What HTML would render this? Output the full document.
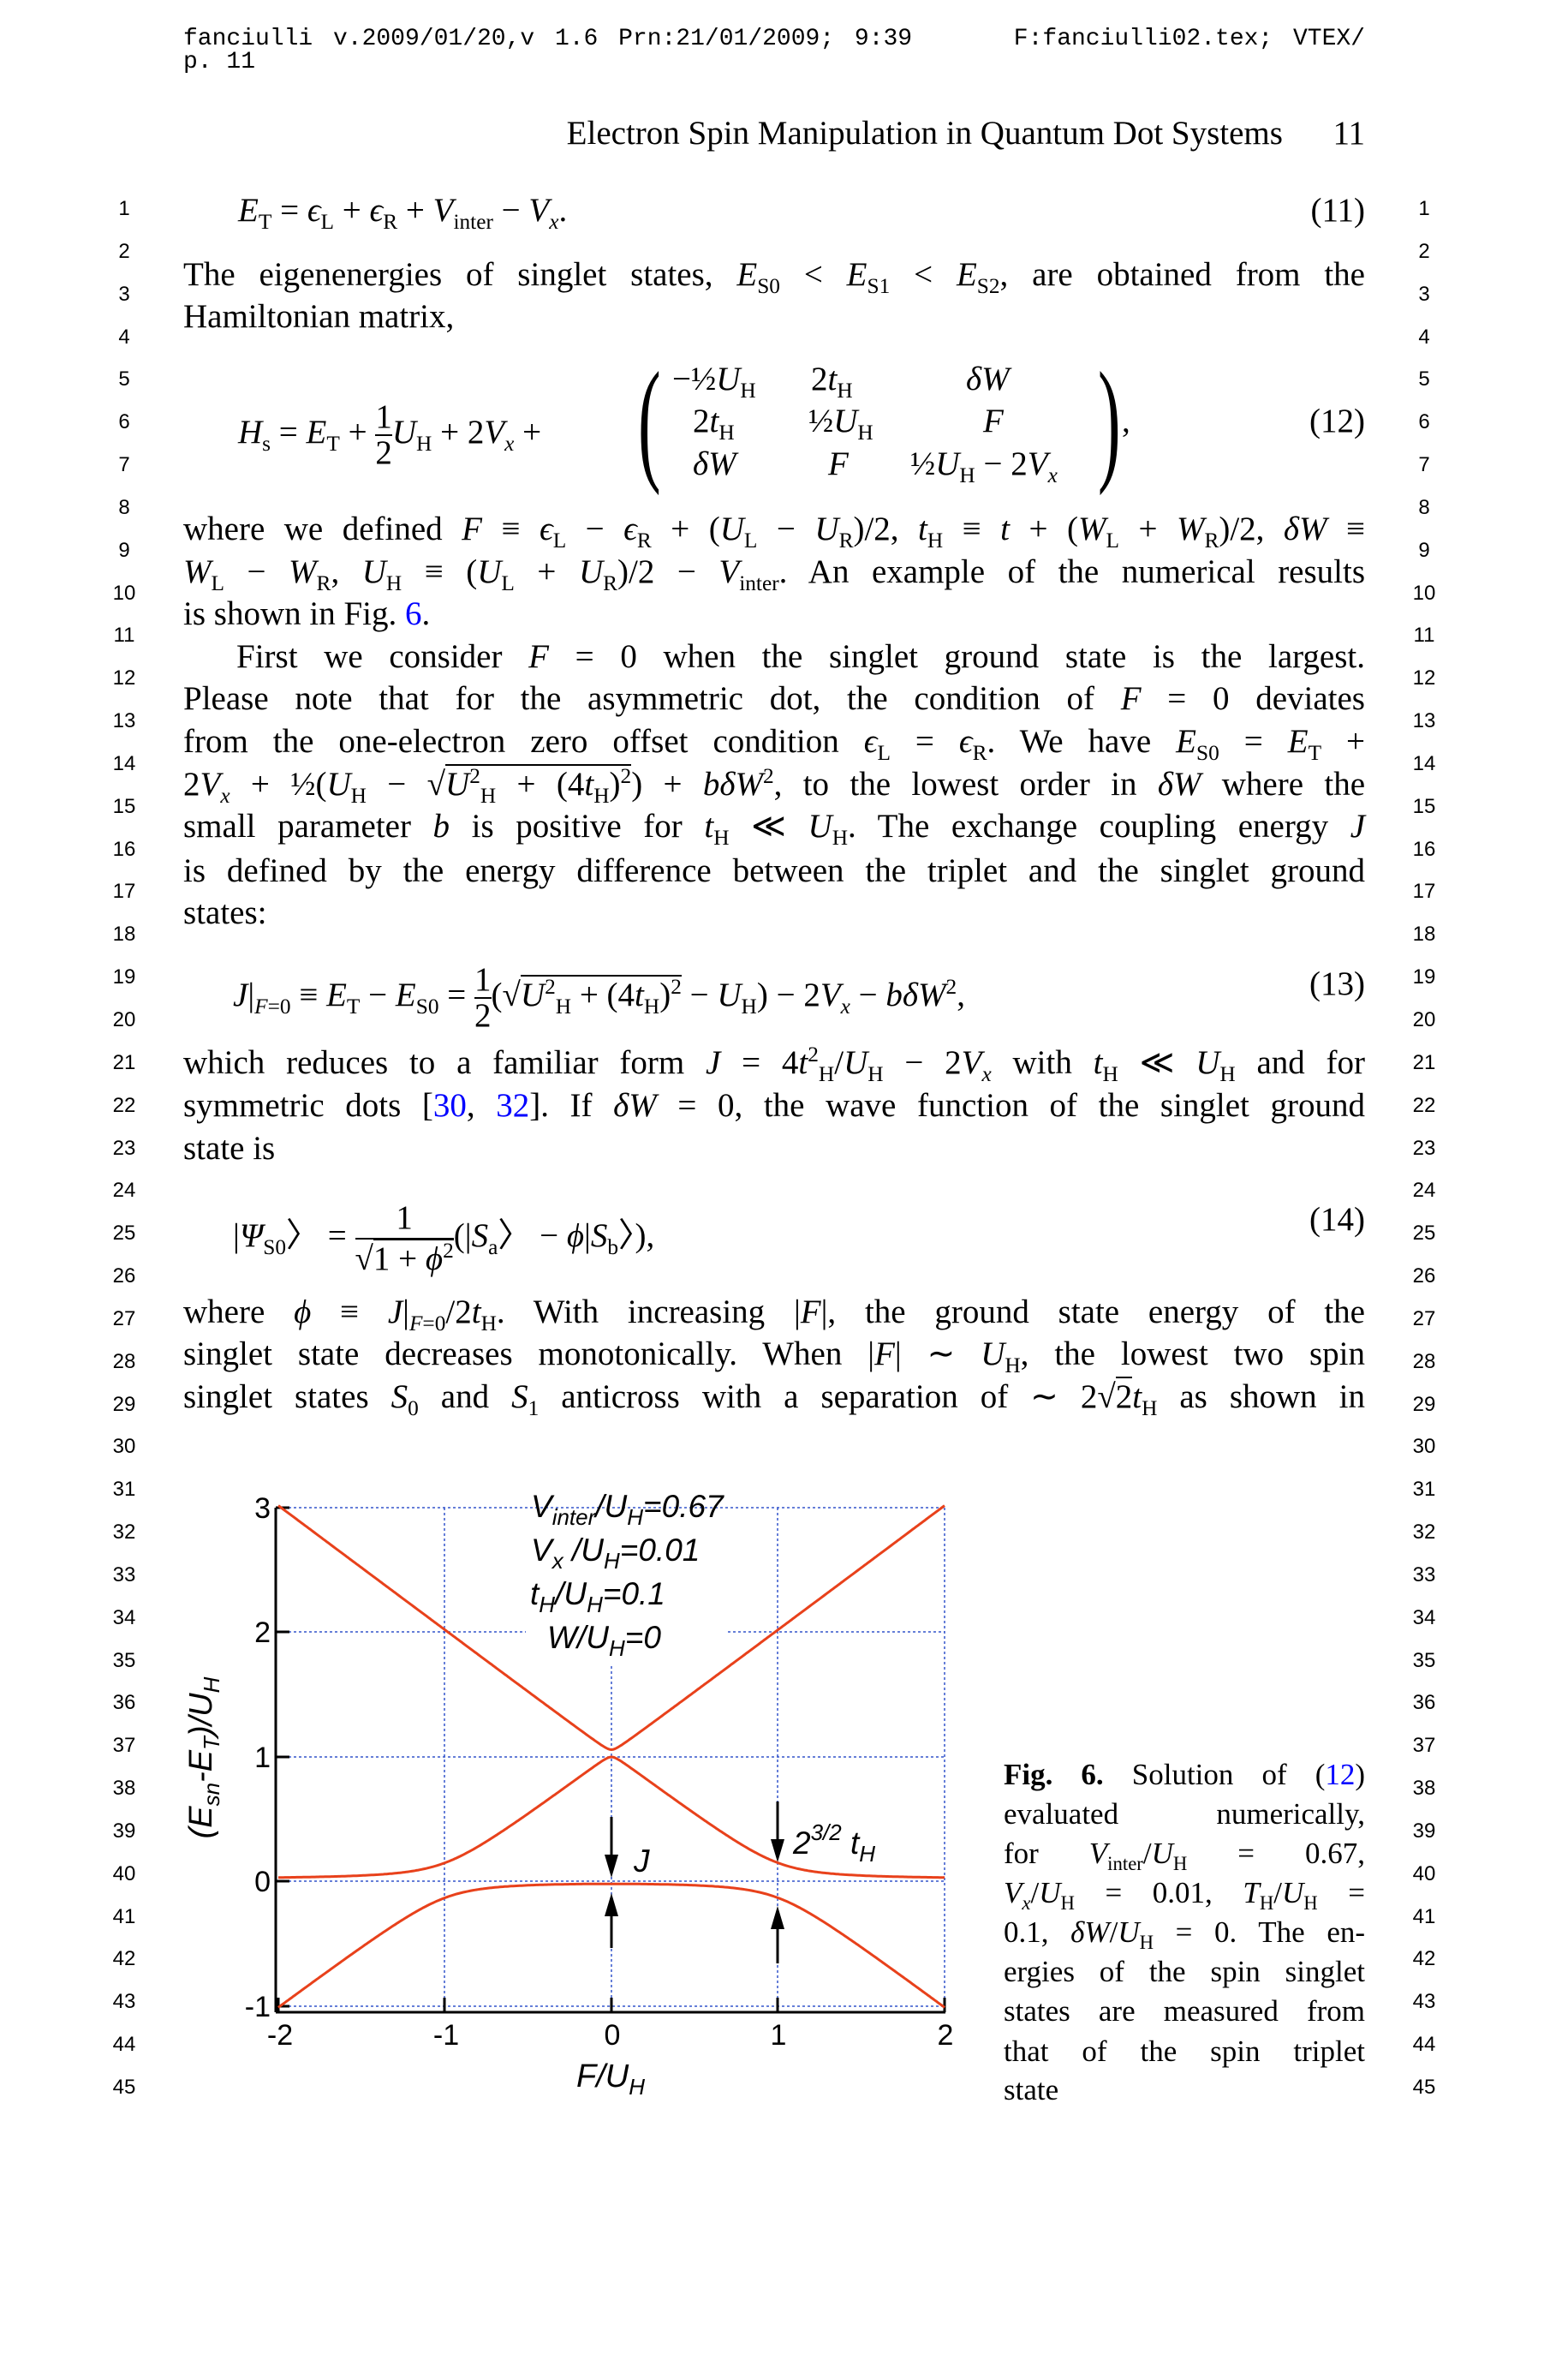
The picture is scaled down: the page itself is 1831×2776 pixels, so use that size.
<!DOCTYPE html>
<html><head><meta charset="utf-8">
<style>
html,body{margin:0;padding:0;background:#fff;}
body{width:1831px;height:2776px;position:relative;overflow:hidden;font-family:"Liberation Serif",serif;color:#000;}
.l{position:absolute;left:214px;width:1380px;height:50px;line-height:50px;font-size:39px;white-space:nowrap;text-align:justify;text-align-last:justify;}
.n{position:absolute;width:40px;height:50px;line-height:50px;font-family:"Liberation Sans",sans-serif;font-size:24px;text-align:center;}
.m{position:absolute;font-size:39px;white-space:nowrap;line-height:50px;height:50px;}
i{font-style:italic;}
sub,sup{font-size:65%;line-height:0;}
.c{position:absolute;left:1172px;width:422px;height:46px;line-height:46px;font-size:35px;white-space:nowrap;text-align:justify;text-align-last:justify;}
a{color:#00f;text-decoration:none;}
.mono{position:absolute;font-family:"Liberation Mono",monospace;font-size:28px;white-space:nowrap;line-height:30px;}
</style></head><body>
<div class="mono" style="left:214px;top:31px;width:1380px;text-align:justify;text-align-last:justify;">fanciulli v.2009/01/20,v 1.6 Prn:21/01/2009; 9:39 &nbsp; &nbsp; F:fanciulli02.tex; VTEX/</div>
<div class="mono" style="left:214px;top:58px;">p. 11</div>
<div class="m" style="right:237px;top:131px;">Electron Spin Manipulation in Quantum Dot Systems &nbsp; &nbsp; &nbsp;11</div>

<div id="nums"></div>

<div class="m" style="left:278px;top:221px;"><i>E</i><sub>T</sub> = <i>ϵ</i><sub>L</sub> + <i>ϵ</i><sub>R</sub> + <i>V</i><sub>inter</sub> − <i>V<sub>x</sub></i>.</div>
<div class="m" style="right:237px;top:221px;">(11)</div>
<div class="l" style="top:296px;">The eigenenergies of singlet states, <i>E</i><sub>S0</sub> &lt; <i>E</i><sub>S1</sub> &lt; <i>E</i><sub>S2</sub>, are obtained from the</div>
<div class="m" style="left:214px;top:345px;">Hamiltonian matrix,</div>

<div class="m" style="left:278px;top:467px;"><i>H</i><sub>s</sub> = <i>E</i><sub>T</sub> + <span style="display:inline-block;vertical-align:middle;text-align:center;line-height:40px;"><span style="display:block;border-bottom:2px solid #000;">1</span><span style="display:block;">2</span></span><i>U</i><sub>H</sub> + 2<i>V<sub>x</sub></i> +</div>
<div style="position:absolute;left:745px;top:410px;font-size:160px;line-height:160px;transform:scaleX(0.5);transform-origin:left;">(</div>
<div style="position:absolute;left:1282px;top:410px;font-size:160px;line-height:160px;transform:scaleX(0.5);transform-origin:left;">)</div>
<div class="m" style="left:785px;top:418px;">−½<i>U</i><sub>H</sub></div>
<div class="m" style="left:947px;top:418px;">2<i>t</i><sub>H</sub></div>
<div class="m" style="left:1128px;top:418px;"><i>δW</i></div>
<div class="m" style="left:809px;top:467px;">2<i>t</i><sub>H</sub></div>
<div class="m" style="left:944px;top:467px;">½<i>U</i><sub>H</sub></div>
<div class="m" style="left:1148px;top:467px;"><i>F</i></div>
<div class="m" style="left:809px;top:517px;"><i>δW</i></div>
<div class="m" style="left:967px;top:517px;"><i>F</i></div>
<div class="m" style="left:1063px;top:517px;">½<i>U</i><sub>H</sub> − 2<i>V<sub>x</sub></i></div>
<div class="m" style="left:1310px;top:467px;">,</div>
<div class="m" style="right:237px;top:467px;">(12)</div>

<div class="l" style="top:593px;">where we defined <i>F</i> ≡ <i>ϵ</i><sub>L</sub> − <i>ϵ</i><sub>R</sub> + (<i>U</i><sub>L</sub> − <i>U</i><sub>R</sub>)/2, <i>t</i><sub>H</sub> ≡ <i>t</i> + (<i>W</i><sub>L</sub> + <i>W</i><sub>R</sub>)/2, <i>δW</i> ≡</div>
<div class="l" style="top:643px;"><i>W</i><sub>L</sub> − <i>W</i><sub>R</sub>, <i>U</i><sub>H</sub> ≡ (<i>U</i><sub>L</sub> + <i>U</i><sub>R</sub>)/2 − <i>V</i><sub>inter</sub>. An example of the numerical results</div>
<div class="m" style="left:214px;top:692px;">is shown in Fig. <a>6</a>.</div>
<div class="l" style="top:742px;left:276px;width:1318px;">First we consider <i>F</i> = 0 when the singlet ground state is the largest.</div>
<div class="l" style="top:791px;">Please note that for the asymmetric dot, the condition of <i>F</i> = 0 deviates</div>
<div class="l" style="top:841px;">from the one-electron zero offset condition <i>ϵ</i><sub>L</sub> = <i>ϵ</i><sub>R</sub>. We have <i>E</i><sub>S0</sub> = <i>E</i><sub>T</sub> +</div>
<div class="l" style="top:891px;">2<i>V<sub>x</sub></i> + ½(<i>U</i><sub>H</sub> − √<span style="border-top:2px solid #000;"><i>U</i><sup>2</sup><sub>H</sub> + (4<i>t</i><sub>H</sub>)<sup>2</sup></span>) + <i>bδW</i><sup>2</sup>, to the lowest order in <i>δW</i> where the</div>
<div class="l" style="top:940px;">small parameter <i>b</i> is positive for <i>t</i><sub>H</sub> ≪ <i>U</i><sub>H</sub>. The exchange coupling energy <i>J</i></div>
<div class="l" style="top:992px;">is defined by the energy difference between the triplet and the singlet ground</div>
<div class="m" style="left:214px;top:1041px;">states:</div>

<div class="m" style="left:272px;top:1124px;"><i>J</i>|<sub><i>F</i>=0</sub> ≡ <i>E</i><sub>T</sub> − <i>E</i><sub>S0</sub> = <span style="display:inline-block;vertical-align:middle;text-align:center;line-height:40px;"><span style="display:block;border-bottom:2px solid #000;">1</span><span style="display:block;">2</span></span>(√<span style="border-top:2px solid #000;"><i>U</i><sup>2</sup><sub>H</sub> + (4<i>t</i><sub>H</sub>)<sup>2</sup></span> − <i>U</i><sub>H</sub>) − 2<i>V<sub>x</sub></i> − <i>bδW</i><sup>2</sup>,</div>
<div class="m" style="right:237px;top:1124px;">(13)</div>

<div class="l" style="top:1216px;">which reduces to a familiar form <i>J</i> = 4<i>t</i><sup>2</sup><sub>H</sub>/<i>U</i><sub>H</sub> − 2<i>V<sub>x</sub></i> with <i>t</i><sub>H</sub> ≪ <i>U</i><sub>H</sub> and for</div>
<div class="l" style="top:1266px;">symmetric dots [<a>30</a>, <a>32</a>]. If <i>δW</i> = 0, the wave function of the singlet ground</div>
<div class="m" style="left:214px;top:1316px;">state is</div>

<div class="m" style="left:272px;top:1399px;">|<i>Ψ</i><sub>S0</sub>〉 = <span style="display:inline-block;vertical-align:middle;text-align:center;line-height:46px;"><span style="display:block;border-bottom:2px solid #000;padding:0 4px;">1</span><span style="display:block;">√<span style="border-top:2px solid #000;">1 + <i>ϕ</i><sup>2</sup></span></span></span>(|<i>S</i><sub>a</sub>〉 − <i>ϕ</i>|<i>S</i><sub>b</sub>〉),</div>
<div class="m" style="right:237px;top:1399px;">(14)</div>

<div class="l" style="top:1507px;">where <i>ϕ</i> ≡ <i>J</i>|<sub><i>F</i>=0</sub>/2<i>t</i><sub>H</sub>. With increasing |<i>F</i>|, the ground state energy of the</div>
<div class="l" style="top:1556px;">singlet state decreases monotonically. When |<i>F</i>| ∼ <i>U</i><sub>H</sub>, the lowest two spin</div>
<div class="l" style="top:1606px;">singlet states <i>S</i><sub>0</sub> and <i>S</i><sub>1</sub> anticross with a separation of ∼ 2√<span style="border-top:2px solid #000;">2</span><i>t</i><sub>H</sub> as shown in</div>

<div class="c" style="top:2049px;"><b>Fig. 6.</b> Solution of (<a>12</a>)</div>
<div class="c" style="top:2095px;">evaluated numerically,</div>
<div class="c" style="top:2141px;">for <i>V</i><sub>inter</sub>/<i>U</i><sub>H</sub> = 0.67,</div>
<div class="c" style="top:2187px;"><i>V<sub>x</sub></i>/<i>U</i><sub>H</sub> = 0.01, <i>T</i><sub>H</sub>/<i>U</i><sub>H</sub> =</div>
<div class="c" style="top:2233px;">0.1, <i>δW</i>/<i>U</i><sub>H</sub> = 0. The en-</div>
<div class="c" style="top:2279px;">ergies of the spin singlet</div>
<div class="c" style="top:2325px;">states are measured from</div>
<div class="c" style="top:2372px;">that of the spin triplet</div>
<div class="c" style="top:2417px;text-align-last:left;">state</div>

<svg id="plot" width="1831" height="2776" style="position:absolute;left:0;top:0;" xmlns="http://www.w3.org/2000/svg" font-family="Liberation Sans, sans-serif">
<g stroke="#3355cc" stroke-width="1.5" stroke-dasharray="3,3" fill="none">
<line x1="325" y1="1760" x2="1103" y2="1760"/>
<line x1="325" y1="1905" x2="614" y2="1905"/><line x1="850" y1="1905" x2="1103" y2="1905"/>
<line x1="325" y1="2051" x2="1103" y2="2051"/>
<line x1="325" y1="2196" x2="1103" y2="2196"/>
<line x1="325" y1="2342" x2="1103" y2="2342"/>
<line x1="519" y1="1760" x2="519" y2="2349"/>
<line x1="714" y1="1945" x2="714" y2="2349"/>
<line x1="908" y1="1760" x2="908" y2="2349"/>
<line x1="1103" y1="1760" x2="1103" y2="2349"/>
</g>
<g stroke="#000" stroke-width="3">
<line x1="322" y1="1760" x2="322" y2="2349"/>
<line x1="322" y1="2349" x2="1104" y2="2349"/>
<line x1="322" y1="1760" x2="338" y2="1760"/><line x1="322" y1="1905" x2="338" y2="1905"/><line x1="322" y1="2051" x2="338" y2="2051"/><line x1="322" y1="2196" x2="338" y2="2196"/><line x1="322" y1="2342" x2="338" y2="2342"/>
<line x1="325" y1="2349" x2="325" y2="2332"/><line x1="519" y1="2349" x2="519" y2="2332"/><line x1="714" y1="2349" x2="714" y2="2332"/><line x1="908" y1="2349" x2="908" y2="2332"/><line x1="1103" y1="2349" x2="1103" y2="2332"/>
</g>
<g font-size="34" text-anchor="end">
<text x="316" y="1772">3</text><text x="316" y="1917">2</text><text x="316" y="2063">1</text><text x="316" y="2208">0</text><text x="316" y="2354">-1</text>
</g>
<g font-size="34" text-anchor="middle">
<text x="327" y="2387">-2</text><text x="521" y="2387">-1</text><text x="715" y="2387">0</text><text x="909" y="2387">1</text><text x="1104" y="2387">2</text>
</g>
<text x="673" y="2436" font-size="38" font-style="italic">F/U<tspan font-size="26" dy="9">H</tspan></text>
<text transform="translate(247,2052) rotate(-90)" text-anchor="middle" font-size="38" font-style="italic">(E<tspan font-size="26" dy="9">sn</tspan><tspan dy="-9">-E</tspan><tspan font-size="26" dy="9">T</tspan><tspan dy="-9">)/U</tspan><tspan font-size="26" dy="9">H</tspan></text>
<g font-size="37" font-style="italic">
<text x="620" y="1771">V<tspan font-size="26" dy="9">inter</tspan><tspan dy="-9">/U</tspan><tspan font-size="26" dy="9">H</tspan><tspan dy="-9">=0.67</tspan></text>
<text x="620" y="1822">V<tspan font-size="26" dy="9">x</tspan><tspan dy="-9"> /U</tspan><tspan font-size="26" dy="9">H</tspan><tspan dy="-9">=0.01</tspan></text>
<text x="619" y="1873">t<tspan font-size="26" dy="9">H</tspan><tspan dy="-9">/U</tspan><tspan font-size="26" dy="9">H</tspan><tspan dy="-9">=0.1</tspan></text>
<text x="639" y="1924">W/U<tspan font-size="26" dy="9">H</tspan><tspan dy="-9">=0</tspan></text>
<text x="740" y="2185">J</text>
<text x="926" y="2164">2<tspan font-size="26" dy="-16">3/2</tspan><tspan dy="16"> t</tspan><tspan font-size="26" dy="9">H</tspan></text>
</g>
<g stroke="#000" stroke-width="3"><line x1="714" y1="2121" x2="714" y2="2170"/><line x1="714" y1="2230" x2="714" y2="2274"/><line x1="908" y1="2103" x2="908" y2="2152"/><line x1="908" y1="2245" x2="908" y2="2292"/></g>
<g fill="#000"><polygon points="706,2165 722,2165 714,2192"/><polygon points="706,2237 722,2237 714,2210"/><polygon points="900,2147 916,2147 908,2174"/><polygon points="900,2252 916,2252 908,2225"/></g>
<g id="curves" fill="none" stroke="#e8411b" stroke-width="3"></g>
</svg>

<script>
(function(){
var h='';
for(var n=1;n<=45;n++){var y=244+(n-1)*49.84-25;
h+='<div class="n" style="left:125px;top:'+y.toFixed(1)+'px">'+n+'</div><div class="n" style="left:1643px;top:'+y.toFixed(1)+'px">'+n+'</div>';}
document.getElementById('nums').innerHTML=h;
function eig(F){
 var a=-0.5,b=0.5,c=0.48,d=0.2,e=F,f=0;
 var p1=d*d+e*e+f*f,q=(a+b+c)/3;
 var p2=(a-q)*(a-q)+(b-q)*(b-q)+(c-q)*(c-q)+2*p1,p=Math.sqrt(p2/6);
 var A=(a-q)/p,B=(b-q)/p,C=(c-q)/p,D=d/p,E=e/p,G=f/p;
 var det=A*(B*C-E*E)-D*(D*C-E*G)+G*(D*E-B*G);
 var r=Math.max(-1,Math.min(1,det/2)),ph=Math.acos(r)/3;
 var e1=q+2*p*Math.cos(ph),e3=q+2*p*Math.cos(ph+2*Math.PI/3),e2=3*q-e1-e3;
 return [e3+0.52,e2+0.52,e1+0.52];}
var P=['','',''];
for(var i=0;i<=400;i++){var F=-2+i*0.01;var v=eig(F);
 for(var k=0;k<3;k++){var x=325+(F+2)*194.5,y=1760+(3-v[k])*145.5;
  P[k]+=(i?'L':'M')+x.toFixed(1)+','+y.toFixed(1);}}
var g=document.getElementById('curves'),s='';
for(var k=0;k<3;k++)s+='<path d="'+P[k]+'"/>';
g.innerHTML=s;
})();
</script>
</body></html>
